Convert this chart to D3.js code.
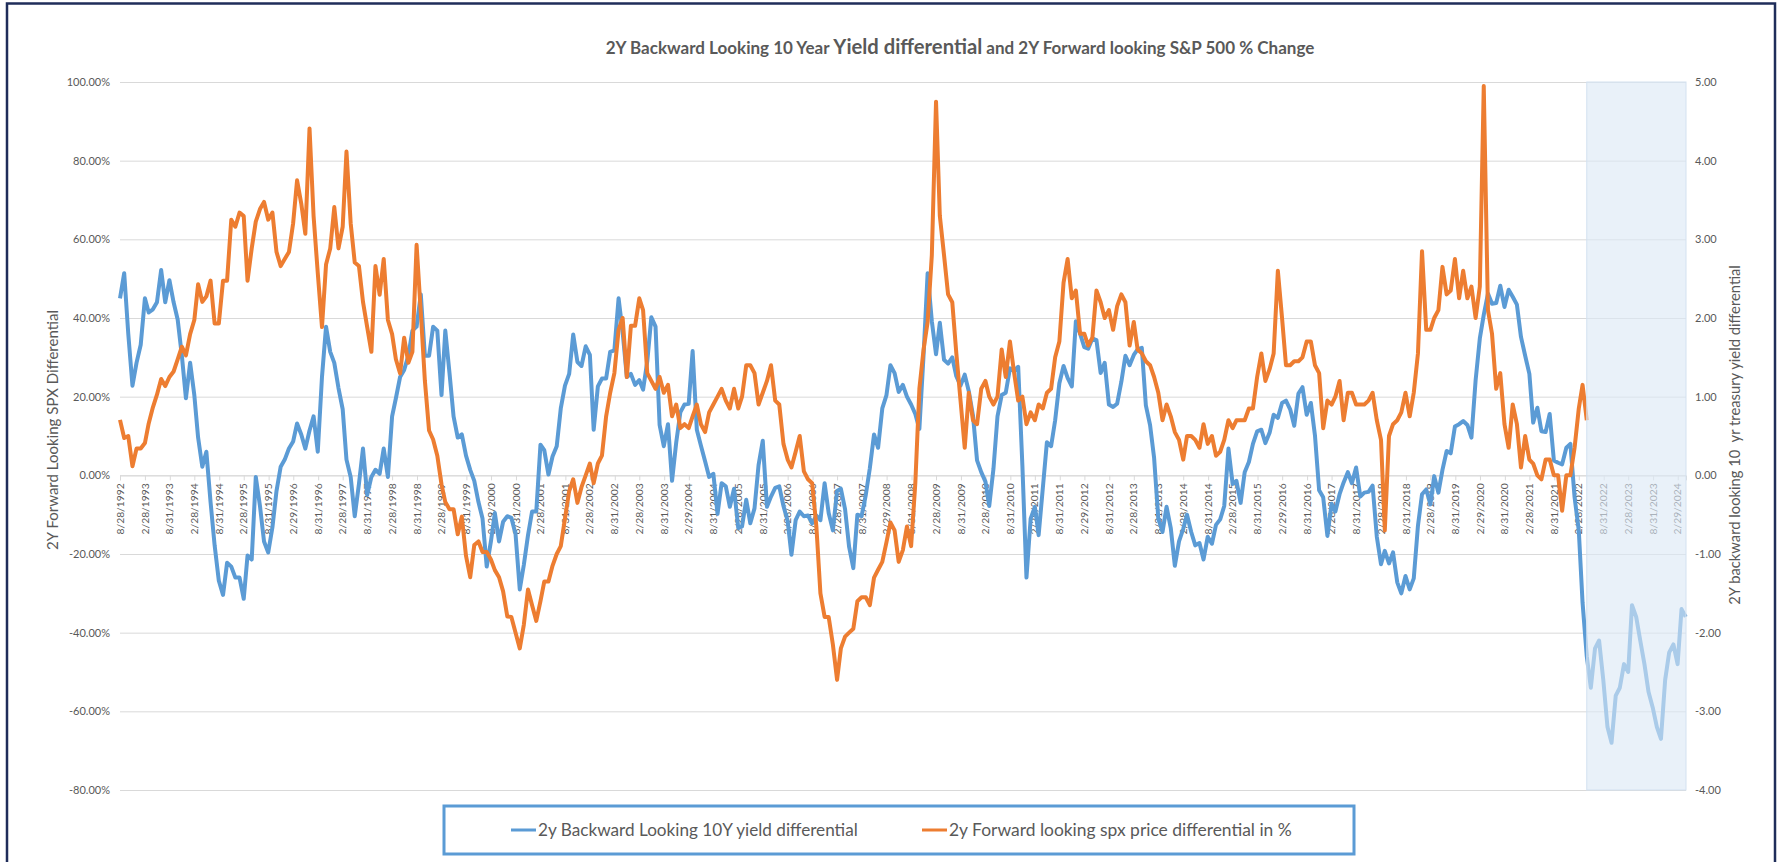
<!DOCTYPE html>
<html>
<head>
<meta charset="utf-8">
<script src="https://cdn.jsdelivr.net/npm/d3@7"></script>
<style>
  body { margin: 0; background: #fff; }
  svg text { font-family: Lato, "Open Sans", sans-serif; fill: #595959; }
</style>
</head>
<body>
<div id="chart"></div>
<script>
// setup dimensions
const width = 1778;
const height = 862;
const plot = { left: 120, right: 1686, top: 82, bottom: 790 };

// category axis: one point per month, starting 8/28/1992
const startDate = new Date(1992, 7, 28);
const endDate = new Date(2024, 3, 30);

const tickLabels = [
  "8/28/1992", "2/28/1993", "8/31/1993", "2/28/1994", "8/31/1994", "2/28/1995",
  "8/31/1995", "2/29/1996", "8/31/1996", "2/28/1997", "8/31/1997", "2/28/1998",
  "8/31/1998", "2/28/1999", "8/31/1999", "2/29/2000", "8/31/2000", "2/28/2001",
  "8/31/2001", "2/28/2002", "8/31/2002", "2/28/2003", "8/31/2003", "2/29/2004",
  "8/31/2004", "2/28/2005", "8/31/2005", "2/28/2006", "8/31/2006", "2/28/2007",
  "8/31/2007", "2/29/2008", "8/31/2008", "2/28/2009", "8/31/2009", "2/28/2010",
  "8/31/2010", "2/28/2011", "8/31/2011", "2/29/2012", "8/31/2012", "2/28/2013",
  "8/31/2013", "2/28/2014", "8/31/2014", "2/28/2015", "8/31/2015", "2/29/2016",
  "8/31/2016", "2/28/2017", "8/31/2017", "2/28/2018", "8/31/2018", "2/28/2019",
  "8/31/2019", "2/29/2020", "8/31/2020", "2/28/2021", "8/31/2021", "2/28/2022",
  "8/31/2022", "2/28/2023", "8/31/2023", "2/29/2024"
];

const leftTicks = [100, 80, 60, 40, 20, 0, -20, -40, -60, -80];
const rightTicks = [5, 4, 3, 2, 1, 0, -1, -2, -3, -4];

// 2y backward looking 10Y yield differential (right axis), monthly from 8/1992
const yieldDiff = [
  2.25, 2.57, 1.80, 1.14, 1.43, 1.66, 2.25, 2.07, 2.11, 2.20,
  2.61, 2.20, 2.48, 2.20, 1.98, 1.52, 0.98, 1.43, 1.02, 0.48,
  0.11, 0.30, -0.34, -0.89, -1.34, -1.52, -1.11, -1.16, -1.30, -1.30,
  -1.57, -1.02, -1.07, -0.02, -0.39, -0.84, -0.98, -0.66, -0.20, 0.11,
  0.20, 0.34, 0.43, 0.66, 0.52, 0.34, 0.57, 0.75, 0.30, 1.25,
  1.89, 1.57, 1.43, 1.11, 0.84, 0.20, -0.02, -0.52, -0.11, 0.34,
  -0.25, -0.02, 0.07, 0.02, 0.34, -0.02, 0.75, 0.98, 1.25, 1.34,
  1.52, 1.84, 1.89, 2.30, 1.52, 1.52, 1.89, 1.84, 1.02, 1.84,
  1.30, 0.75, 0.48, 0.52, 0.25, 0.07, -0.07, -0.34, -0.55, -1.16,
  -0.84, -0.48, -0.84, -0.59, -0.52,
  -0.54, -0.75, -1.45, -1.14, -0.76, -0.46, -0.46, 0.39, 0.32, 0.01,
  0.24, 0.37, 0.85, 1.14, 1.29, 1.79, 1.44, 1.39, 1.64, 1.53,
  0.58, 1.13, 1.23, 1.23, 1.57, 1.59, 2.25, 1.82, 1.25, 1.29,
  1.15, 1.21, 1.09, 1.45, 2.01, 1.89, 0.64, 0.37, 0.65, -0.07,
  0.42, 0.80, 0.90, 0.91, 1.58, 0.58, 0.38, 0.18, -0.02, 0.02,
  -0.49, -0.10, -0.14, -0.40, -0.17, -0.67, -0.65, -0.31, -0.61, -0.42,
  0.13, 0.44, -0.40, -0.27, -0.16, -0.14, -0.39, -0.58, -1.01, -0.57,
  -0.46, -0.52, -0.51, -0.61, -0.51, -0.57, -0.10, -0.48, -0.70, -0.20,
  -0.17, -0.43, -0.91, -1.18, -0.50, -0.52, -0.25, 0.09, 0.52, 0.35,
  0.85, 1.02, 1.40, 1.30, 1.06, 1.15, 1.00, 0.90, 0.78, 0.59,
  1.53, 2.57, 1.96, 1.54, 1.94, 1.47, 1.42, 1.50, 1.26, 1.14,
  1.28, 1.07, 0.76, 0.19, 0.04, -0.08, -0.39, 0.08, 0.75, 1.02,
  1.05, 1.36, 1.33, 1.38, 0.12, -1.30, -0.55, -0.40, -0.76, -0.16,
  0.42, 0.37, 0.70, 1.17, 1.39, 1.24, 1.13, 1.96, 1.80, 1.63,
  1.61, 1.74, 1.72, 1.30, 1.43, 0.90, 0.87, 0.91, 1.19, 1.52,
  1.40, 1.53, 1.60, 1.62, 0.89, 0.64, 0.22, -0.55, -0.72, -0.40,
  -0.67, -1.15, -0.84, -0.68, -0.50, -0.72, -0.89, -0.86, -1.07, -0.78,
  -0.87, -0.63, -0.56, -0.39, 0.34, -0.11, -0.07, -0.35, 0.04, 0.17,
  0.40, 0.56, 0.58, 0.41, 0.54, 0.77, 0.73, 0.92, 0.95, 0.84,
  0.63, 1.04, 1.12, 0.77, 0.92, 0.51, -0.19, -0.28, -0.77, -0.36,
  -0.46, -0.24, -0.09, 0.04, -0.10, 0.10, -0.27, -0.22, -0.21, -0.13,
  -0.78, -1.13, -0.96, -1.12, -0.98, -1.36, -1.50, -1.28, -1.45, -1.31,
  -0.64, -0.24, -0.18, -0.37, -0.01, -0.22, 0.07, 0.31, 0.28, 0.62,
  0.65, 0.69, 0.64, 0.48, 1.21, 1.74, 2.04, 2.31, 2.18, 2.19,
  2.41, 2.14, 2.36, 2.27, 2.17, 1.76, 1.52, 1.29, 0.67, 0.86,
  0.56, 0.55, 0.78, 0.19, 0.16, 0.14, 0.35, 0.40, -0.28, -0.70,
  -1.62, -2.30, -2.70, -2.20, -2.10, -2.60, -3.20, -3.40, -2.80, -2.70,
  -2.40, -2.50, -1.65, -1.80, -2.10, -2.40, -2.75, -2.95, -3.20, -3.35,
  -2.60, -2.25, -2.15, -2.40, -1.70, -1.80
];

// 2y forward looking spx price differential in % (left axis), monthly from 8/1992
const spxDiff = [
  14.1, 9.5, 10.0, 2.3, 6.8, 6.8, 8.2, 13.2, 17.3, 20.5,
  24.5, 22.7, 25.0, 26.4, 29.5, 32.7, 30.5, 35.9, 39.5, 48.6,
  44.1, 45.5, 49.5, 38.6, 38.6, 49.5, 49.5, 65.0, 63.2, 66.8,
  65.9, 49.5, 57.7, 64.5, 67.7, 69.5, 65.0, 66.8, 56.8, 53.2,
  55.0, 56.8, 64.1, 75.0, 69.1, 61.4, 88.2, 65.9, 51.4, 37.7,
  53.6, 57.7, 68.2, 57.7, 63.2, 82.3, 64.1, 54.1, 53.2, 44.1,
  37.7, 31.4, 53.2, 45.9, 55.0, 39.5, 35.9, 29.5, 25.9, 35.0,
  28.6, 31.4, 58.6, 41.4, 24.1, 11.4, 9.1, 5.0, -2.3, -6.8,
  -8.6, -8.6, -15.0, -10.5, -20.5, -25.9, -17.7, -16.8, -19.5, -19.5,
  -21.4, -24.1, -25.9, -29.5, -35.9,
  -36, -40, -44, -38, -29, -33, -37, -32, -27, -27,
  -23, -20, -18, -11, -4, -1, -7, -3, 0, 3,
  -2, 3, 5, 15, 21, 26, 37, 40, 25, 38,
  38, 45, 42, 26, 24, 22, 25, 21, 23, 15,
  18, 12, 13, 12, 15, 18, 13, 11, 16, 18,
  20, 22, 19, 17, 22, 17, 20, 28, 28, 26,
  18, 21, 24, 28, 19, 18, 8, 4, 2, 6,
  10, 1, -1, -2, -13, -30, -36, -36, -43, -52,
  -44, -41, -40, -39, -32, -31, -31, -33, -26, -24,
  -22, -17, -12, -14, -22, -19, -13, -18, -2, 22,
  32, 39, 56, 95, 66, 56, 46, 44, 31, 19,
  7, 21, 14, 13, 22, 24, 20, 18, 20, 32,
  25, 34, 26, 19, 20, 13, 16, 14, 18, 17,
  21, 22, 30, 34, 49, 55, 45, 47, 36, 36,
  33, 35, 47, 44, 40, 42, 37, 43, 46, 44,
  33, 39, 32, 31, 29, 28, 25, 21, 14, 18,
  15, 11, 9, 4, 10, 10, 9, 7, 13, 8,
  10, 5, 6, 9, 14, 12, 14, 14, 14, 17,
  17, 25, 31, 24, 27, 31, 52, 40, 28, 28,
  29, 29, 30, 34, 34, 28, 26, 12, 19, 18,
  20, 24, 14, 21, 21, 18, 18, 18, 19, 21,
  14, 9, -14, 10, 13, 14, 16, 21, 15, 21,
  31, 57, 37, 37, 40, 42, 53, 46, 47, 55,
  45, 52, 45, 48, 40, 48, 99, 42, 36, 22,
  26, 13, 7, 18, 13, 2, 10, 4, 3, 0,
  -1, 4, 4, 0, 0, -9, 0, 0, 7, 17,
  23, 14
];

const parseDate = d3.timeParse("%m/%d/%Y");

// SVG
const svg = d3
  .select("#chart")
  .append("svg")
  .attr("width", width)
  .attr("height", height);

// outer frame
svg
  .append("rect")
  .attr("x", 7)
  .attr("y", 3.5)
  .attr("width", 1768)
  .attr("height", 870)
  .attr("fill", "#fff")
  .attr("stroke", "#1f2d5a")
  .attr("stroke-width", 2.5);

// scales
const x = d3.scaleTime().domain([startDate, endDate]).range([plot.left, plot.right]);
const yL = d3.scaleLinear().domain([-80, 100]).range([plot.bottom, plot.top]);
const yR = d3.scaleLinear().domain([-4, 5]).range([plot.bottom, plot.top]);

const yieldData = yieldDiff.map((v, i) => ({ date: d3.timeMonth.offset(startDate, i), v }));
const spxData = spxDiff.map((v, i) => ({ date: d3.timeMonth.offset(startDate, i), v }));

// left axis + gridlines
const leftAxisG = svg
  .append("g")
  .attr("transform", `translate(${plot.left},0)`)
  .call(
    d3.axisLeft(yL)
      .tickValues(leftTicks)
      .tickSize(-(plot.right - plot.left))
      .tickPadding(10)
      .tickFormat((d) => d.toFixed(2) + "%")
  );
leftAxisG.select(".domain").remove();
leftAxisG.selectAll(".tick line").attr("stroke", "#d9d9d9");
leftAxisG.selectAll(".tick text").style("font-size", "11px").attr("fill", "#595959");

// right axis
const rightAxisG = svg
  .append("g")
  .attr("transform", `translate(${plot.right},0)`)
  .call(
    d3.axisRight(yR)
      .tickValues(rightTicks)
      .tickSize(0)
      .tickPadding(9)
      .tickFormat((d) => d.toFixed(2))
  );
rightAxisG.select(".domain").remove();
rightAxisG.selectAll(".tick text").style("font-size", "11px").attr("fill", "#595959");

// x axis on the zero line
const xAxisG = svg
  .append("g")
  .attr("transform", `translate(0,${yL(0)})`)
  .call(
    d3.axisBottom(x)
      .tickValues(tickLabels.map(parseDate))
      .tickSize(5)
      .tickFormat(() => "")
  );
xAxisG.select(".domain").attr("stroke", "#d9d9d9");
xAxisG.selectAll(".tick line").attr("stroke", "#d9d9d9");

svg
  .append("g")
  .selectAll("text")
  .data(tickLabels)
  .join("text")
  .attr("transform", (d) => `translate(${x(parseDate(d))},${yL(0) + 8}) rotate(-90)`)
  .attr("dy", "0.35em")
  .attr("text-anchor", "end")
  .style("font-size", "10.3px")
  .text((d) => d);

// lines
const yieldLine = d3.line().x((d) => x(d.date)).y((d) => yR(d.v));
const spxLine = d3.line().x((d) => x(d.date)).y((d) => yL(d.v));

svg
  .append("path")
  .datum(yieldData)
  .attr("fill", "none")
  .attr("stroke", "#5b9bd5")
  .attr("stroke-width", 4)
  .attr("stroke-linejoin", "round")
  .attr("d", yieldLine);

svg
  .append("path")
  .datum(spxData)
  .attr("fill", "none")
  .attr("stroke", "#ed7d31")
  .attr("stroke-width", 4)
  .attr("stroke-linejoin", "round")
  .attr("d", spxLine);

// shaded period after the last S&P point
const shadeStart = spxData[spxData.length - 1].date;
svg
  .append("rect")
  .attr("x", x(shadeStart))
  .attr("y", plot.top)
  .attr("width", plot.right - x(shadeStart))
  .attr("height", plot.bottom - plot.top)
  .attr("fill", "#dbe8f5")
  .attr("fill-opacity", 0.62)
  .attr("stroke", "#d3e1f0")
  .attr("stroke-width", 1);

// fit a text element to a width
function fitWidth(sel, target) {
  const w = sel.node().getComputedTextLength();
  const k = target / w;
  sel.selectAll("tspan").each(function () {
    const t = d3.select(this);
    t.style("font-size", parseFloat(t.style("font-size")) * k + "px");
  });
  if (sel.selectAll("tspan").empty()) {
    sel.style("font-size", parseFloat(sel.style("font-size")) * k + "px");
  }
}

// title
const title = svg
  .append("text")
  .attr("x", 960)
  .attr("y", 54)
  .attr("text-anchor", "middle")
  .style("font-weight", "bold")
  .attr("fill", "#595959");
title.append("tspan").style("font-size", "16px").text("2Y Backward Looking 10 Year ");
title.append("tspan").style("font-size", "19px").text("Yield differential");
title.append("tspan").style("font-size", "16px").text(" and 2Y Forward looking S&P 500 % Change");
fitWidth(title, 709);

// axis titles
const leftTitle = svg
  .append("text")
  .attr("transform", "translate(58,430) rotate(-90)")
  .attr("text-anchor", "middle")
  .style("font-size", "15px")
  .text("2Y Forward Looking SPX Differential");
fitWidth(leftTitle, 240);

const rightTitle = svg
  .append("text")
  .attr("transform", "translate(1740,435) rotate(-90)")
  .attr("text-anchor", "middle")
  .style("font-size", "15px")
  .style("white-space", "pre")
  .text("2Y backward looking 10  yr treasury yield differential");
fitWidth(rightTitle, 340);

// legend
svg
  .append("rect")
  .attr("x", 444)
  .attr("y", 806)
  .attr("width", 910)
  .attr("height", 48)
  .attr("fill", "#fff")
  .attr("stroke", "#5b9bd5")
  .attr("stroke-width", 3);

const legendItems = [
  { label: "2y Backward Looking 10Y yield differential", color: "#5b9bd5", x: 511, w: 320 },
  { label: "2y Forward looking spx price differential in %", color: "#ed7d31", x: 922, w: 343 }
];

legendItems.forEach((item) => {
  svg
    .append("line")
    .attr("x1", item.x)
    .attr("x2", item.x + 25)
    .attr("y1", 830)
    .attr("y2", 830)
    .attr("stroke", item.color)
    .attr("stroke-width", 3);
  const t = svg
    .append("text")
    .attr("x", item.x + 27)
    .attr("y", 830)
    .attr("dy", "0.35em")
    .style("font-size", "16px")
    .text(item.label);
  fitWidth(t, item.w);
});
</script>
</body>
</html>
